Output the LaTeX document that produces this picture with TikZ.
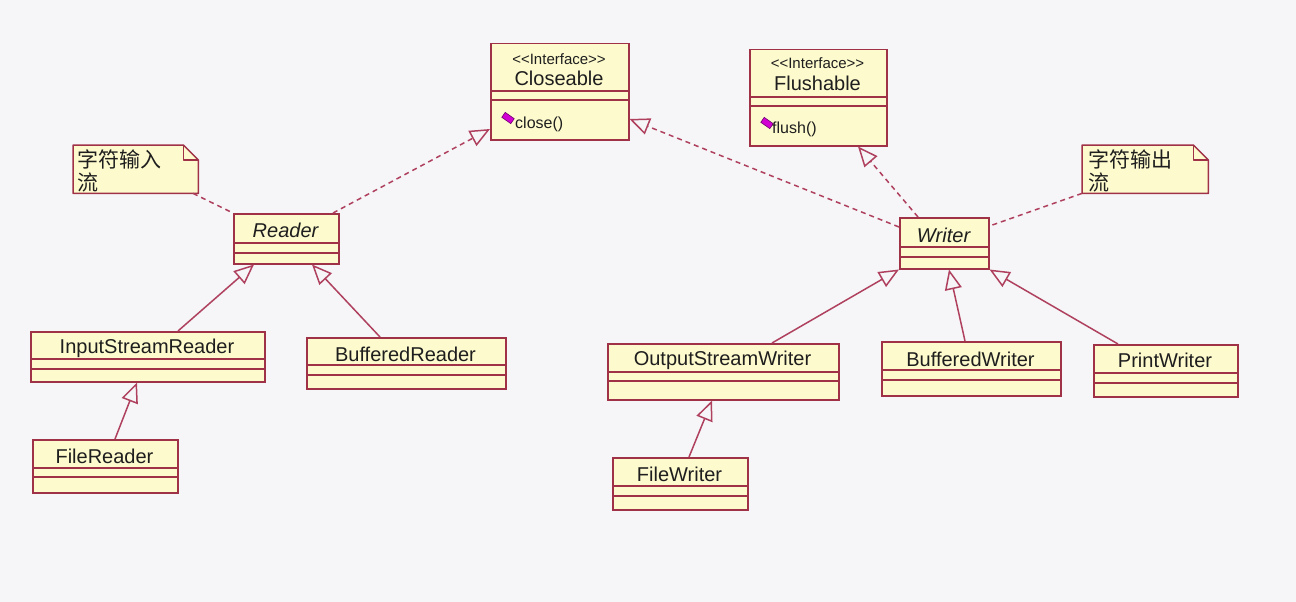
\documentclass[tikz,border=0pt]{standalone}
\usepackage{fontspec}
\setmainfont{Liberation Sans}
\newfontfamily\cjk{Noto Sans CJK SC}
\usetikzlibrary{arrows.meta}

\definecolor{bgColor}{RGB}{246,246,248}
\definecolor{boxFill}{RGB}{253,250,205}
\definecolor{boxDraw}{RGB}{160,50,72}
\definecolor{lineColor}{RGB}{175,65,95}
\definecolor{textColor}{RGB}{30,30,30}
\definecolor{iconFill}{RGB}{210,0,210}
\definecolor{iconDraw}{RGB}{110,0,110}

\tikzset{
  classbox/.style={draw=boxDraw,fill=boxFill,line width=1.5pt,anchor=north west,inner sep=0pt},
  compline/.style={draw=boxDraw,line width=1.5pt},
  classname/.style={text=textColor,anchor=base,inner sep=0pt,font=\fontsize{20}{24}\selectfont},
  stereo/.style={text=textColor,anchor=base,inner sep=0pt,font=\fontsize{15}{18}\selectfont},
  optext/.style={text=textColor,anchor=base west,inner sep=0pt,font=\fontsize{16}{19}\selectfont},
  opicon/.style={fill=iconFill,draw=iconDraw,line width=0.6pt,rotate=-35,minimum width=11pt,minimum height=6pt,inner sep=0pt},
  notebox/.style={anchor=north west,inner sep=0pt},
  noteline/.style={draw=boxDraw,fill=boxFill,line width=1.5pt,line join=round},
  notetext/.style={text=textColor,anchor=north west,align=left,inner sep=0pt,font=\cjk\fontsize{21}{23}\selectfont},
  realizes/.style={draw=lineColor,line width=1.5pt,dash pattern=on 5pt off 4pt,-{Triangle[open,length=20pt,width=17pt]}},
  inherits/.style={draw=lineColor,line width=1.5pt,-{Triangle[open,length=20pt,width=17pt]}},
  notelink/.style={draw=lineColor,line width=1.5pt,dash pattern=on 5pt off 4pt}
}

\begin{document}
\begin{tikzpicture}[x=1pt,y=-1pt]
\path[use as bounding box,fill=bgColor] (0,0) rectangle (1296,602);

% interfaces
\node[classbox,minimum width=138pt,minimum height=96pt] (closeable) at (490,43) {};
\draw[compline] (closeable.west |- 0,91) -- (closeable.east |- 0,91);
\draw[compline] (closeable.west |- 0,100) -- (closeable.east |- 0,100);
\node[stereo] (closeableStereo) at (559,64) {<\kern0pt<Interface>\kern0pt>};
\node[classname] (closeableName) at (559,85) {Closeable};
\node[opicon] (closeIcon) at (508,118) {};
\node[optext] (closeOp) at (515,128) {close()};

\node[classbox,minimum width=137pt,minimum height=96pt] (flushable) at (749,49) {};
\draw[compline] (flushable.west |- 0,97) -- (flushable.east |- 0,97);
\draw[compline] (flushable.west |- 0,106) -- (flushable.east |- 0,106);
\node[stereo] (flushableStereo) at (817.5,69) {<\kern0pt<Interface>\kern0pt>};
\node[classname] (flushableName) at (817.5,90) {Flushable};
\node[opicon] (flushIcon) at (767,123) {};
\node[optext] (flushOp) at (772,133) {flush()};

% abstract classes
\node[classbox,minimum width=105pt,minimum height=50pt] (reader) at (233,213) {};
\draw[compline] (reader.west |- 0,243) -- (reader.east |- 0,243);
\draw[compline] (reader.west |- 0,253) -- (reader.east |- 0,253);
\node[classname,font=\fontsize{20}{24}\selectfont\itshape] (readerName) at (285.5,237) {Reader};

\node[classbox,minimum width=89pt,minimum height=51pt] (writer) at (899,217) {};
\draw[compline] (writer.west |- 0,247) -- (writer.east |- 0,247);
\draw[compline] (writer.west |- 0,257) -- (writer.east |- 0,257);
\node[classname,font=\fontsize{20}{24}\selectfont\itshape] (writerName) at (943.5,242) {Writer};

% reader side
\node[classbox,minimum width=234pt,minimum height=50pt] (isr) at (30,331) {};
\draw[compline] (isr.west |- 0,359) -- (isr.east |- 0,359);
\draw[compline] (isr.west |- 0,369) -- (isr.east |- 0,369);
\node[classname] (isrName) at (147,353) {InputStreamReader};

\node[classbox,minimum width=199pt,minimum height=51pt] (bufReader) at (306,337) {};
\draw[compline] (bufReader.west |- 0,365) -- (bufReader.east |- 0,365);
\draw[compline] (bufReader.west |- 0,375) -- (bufReader.east |- 0,375);
\node[classname] (bufReaderName) at (405.5,361) {BufferedReader};

\node[classbox,minimum width=145pt,minimum height=53pt] (fileReader) at (32,439) {};
\draw[compline] (fileReader.west |- 0,468) -- (fileReader.east |- 0,468);
\draw[compline] (fileReader.west |- 0,477) -- (fileReader.east |- 0,477);
\node[classname] (fileReaderName) at (104.5,463) {FileReader};

% writer side
\node[classbox,minimum width=231pt,minimum height=56pt] (osw) at (607,343) {};
\draw[compline] (osw.west |- 0,372) -- (osw.east |- 0,372);
\draw[compline] (osw.west |- 0,381) -- (osw.east |- 0,381);
\node[classname] (oswName) at (722.5,365) {OutputStreamWriter};

\node[classbox,minimum width=179pt,minimum height=54pt] (bufWriter) at (881,341) {};
\draw[compline] (bufWriter.west |- 0,370) -- (bufWriter.east |- 0,370);
\draw[compline] (bufWriter.west |- 0,380) -- (bufWriter.east |- 0,380);
\node[classname] (bufWriterName) at (970.5,366) {BufferedWriter};

\node[classbox,minimum width=144pt,minimum height=52pt] (printWriter) at (1093,344) {};
\draw[compline] (printWriter.west |- 0,373) -- (printWriter.east |- 0,373);
\draw[compline] (printWriter.west |- 0,383) -- (printWriter.east |- 0,383);
\node[classname] (printWriterName) at (1165,367) {PrintWriter};

\node[classbox,minimum width=135pt,minimum height=52pt] (fileWriter) at (612,457) {};
\draw[compline] (fileWriter.west |- 0,486) -- (fileWriter.east |- 0,486);
\draw[compline] (fileWriter.west |- 0,496) -- (fileWriter.east |- 0,496);
\node[classname] (fileWriterName) at (679.5,481) {FileWriter};

% notes
\node[notebox,minimum width=125pt,minimum height=48pt] (note1) at (73,145) {};
\draw[noteline] (note1.north west) -- ([xshift=-15pt]note1.north east) -- ([yshift=-15pt]note1.north east) -- (note1.south east) -- (note1.south west) -- cycle;
\draw[noteline,fill=none] ([xshift=-15pt]note1.north east) -- ([xshift=-15pt,yshift=-15pt]note1.north east) -- ([yshift=-15pt]note1.north east);
\node[notetext] (note1Text) at (77,150) {字符输入\\流};

\node[notebox,minimum width=126pt,minimum height=48pt] (note2) at (1082,145) {};
\draw[noteline] (note2.north west) -- ([xshift=-15pt]note2.north east) -- ([yshift=-15pt]note2.north east) -- (note2.south east) -- (note2.south west) -- cycle;
\draw[noteline,fill=none] ([xshift=-15pt]note2.north east) -- ([xshift=-15pt,yshift=-15pt]note2.north east) -- ([yshift=-15pt]note2.north east);
\node[notetext] (note2Text) at (1088,150) {字符输出\\流};

% connectors
\draw[realizes] (333,0 |- reader.north) -- (closeable.west |- 0,129);
\draw[realizes] (writer.west |- 0,227) -- (closeable.east |- 0,119);
\draw[realizes] (918,0 |- writer.north) -- (858,0 |- flushable.south);
\draw[notelink] (193,0 |- note1.south) -- (reader.north west);
\draw[notelink] (note2.south west) -- (writer.east |- 0,226);

\draw[inherits] (178,0 |- isr.north) -- (254,0 |- reader.south);
\draw[inherits] (380,0 |- bufReader.north) -- (312,0 |- reader.south);
\draw[inherits] (115,0 |- fileReader.north) -- (137,0 |- isr.south);
\draw[inherits] (772,0 |- osw.north) -- (writer.south west);
\draw[inherits] (965,0 |- bufWriter.north) -- (949,0 |- writer.south);
\draw[inherits] (1118,0 |- printWriter.north) -- (writer.south east);
\draw[inherits] (689,0 |- fileWriter.north) -- (712,0 |- osw.south);
\end{tikzpicture}
\end{document}
